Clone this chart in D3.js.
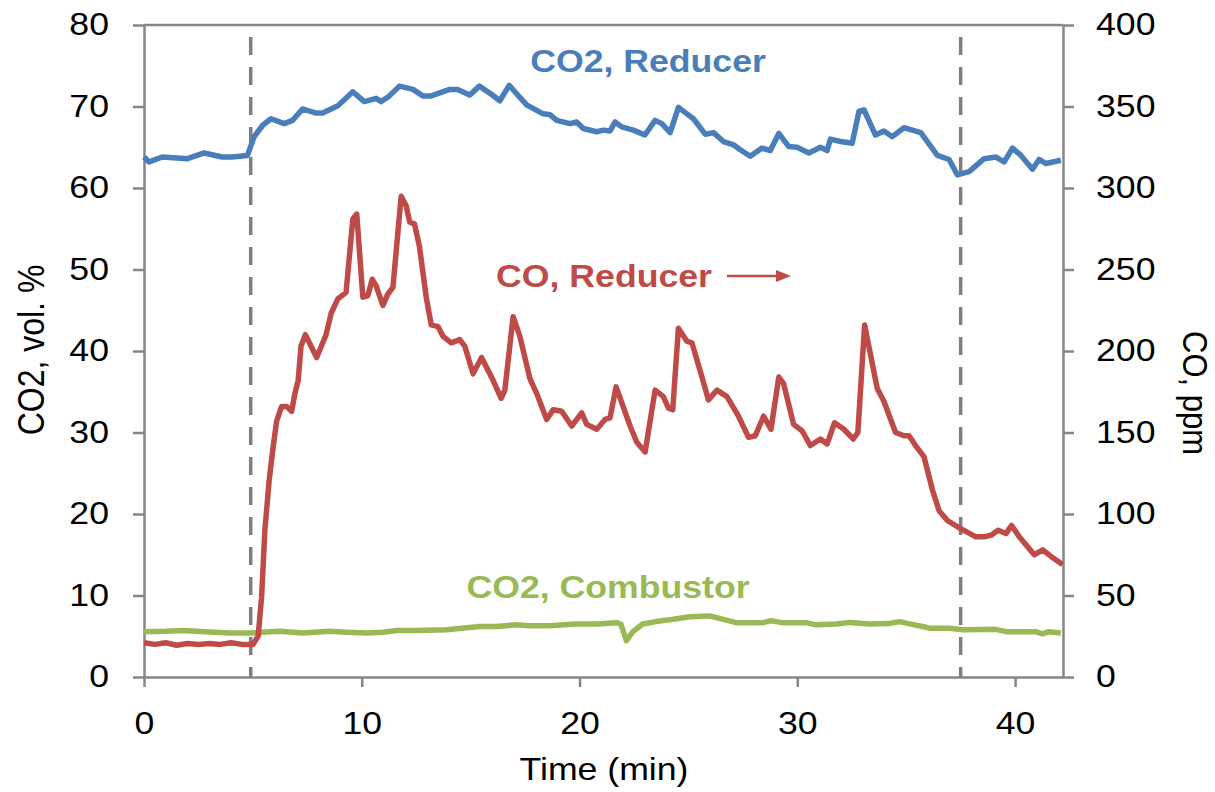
<!DOCTYPE html>
<html>
<head>
<meta charset="utf-8">
<script src="https://cdn.jsdelivr.net/npm/d3@7"></script>
<style>
  body { margin: 0; background: #fff; }
  text { font-family: "Liberation Sans", Arial, sans-serif; }
</style>
</head>
<body>
<div id="chart"></div>
<script>
// data

// CO2 in reducer, vol. %
var co2RedTime = [0, 0.23, 0.84, 2.0, 2.76, 3.6, 4.06, 4.75, 5.06, 5.45, 5.83, 6.44, 6.82, 7.28, 7.9, 8.2, 8.9, 9.59,
  10.12, 10.66, 10.89, 11.27, 11.73, 12.35, 12.8, 13.19, 14.04, 14.4, 14.96, 15.4, 15.95, 16.34, 16.77, 17.1, 17.57,
  18.33, 18.64, 18.95, 19.56, 19.87, 20.17, 20.79, 21.09, 21.4, 21.63, 21.94, 22.47, 23.0, 23.47, 23.78, 24.16,
  24.54, 24.93, 25.23, 25.77, 26.15, 26.61, 27.07, 27.38, 27.84, 28.38, 28.76, 29.15, 29.6, 29.99, 30.53, 31.06,
  31.37, 31.52, 31.98, 32.52, 32.83, 33.06, 33.59, 33.98, 34.36, 34.9, 35.28, 35.67, 36.43, 36.97, 37.35, 37.89,
  38.58, 39.12, 39.5, 39.88, 40.27, 40.8, 41.1, 41.42, 42.1];
var co2RedVal = [63.8, 63.2, 63.8, 63.6, 64.3, 63.8, 63.8, 64.0, 66.3, 67.7, 68.5, 67.9, 68.3, 69.7, 69.2, 69.2, 70.1, 71.8,
  70.6, 71.0, 70.6, 71.3, 72.5, 72.1, 71.3, 71.3, 72.1, 72.1, 71.4, 72.5, 71.5, 70.7, 72.6, 71.6, 70.2,
  69.1, 69.0, 68.3, 67.9, 68.1, 67.3, 66.9, 67.1, 67.0, 68.1, 67.5, 67.1, 66.5, 68.3, 67.9, 66.8,
  69.9, 69.1, 68.5, 66.6, 66.8, 65.7, 65.3, 64.7, 63.9, 64.9, 64.6, 66.7, 65.1, 65.0, 64.3, 65.0,
  64.6, 66.0, 65.7, 65.5, 69.4, 69.6, 66.5, 67.0, 66.3, 67.4, 67.1, 66.8, 64.0, 63.5, 61.6, 62.0,
  63.6, 63.8, 63.2, 64.9, 64.0, 62.3, 63.5, 63.0, 63.4];

// CO in reducer, ppm (right axis)
var coRedTime = [0, 0.5, 1.0, 1.5, 2.0, 2.5, 3.0, 3.5, 4.0, 4.5, 5.0, 5.24, 5.4, 5.55, 5.75, 5.93, 6.09, 6.32, 6.55, 6.78,
  6.93, 7.08, 7.21, 7.41, 7.93, 8.36, 8.59, 8.9, 9.28, 9.59, 9.77, 10.05, 10.28, 10.48, 10.66, 10.97, 11.2, 11.43,
  11.81, 12.04, 12.2, 12.42, 12.65, 12.96, 13.19, 13.5, 13.73, 14.11, 14.5, 14.73, 15.11, 15.5, 16.03, 16.4, 16.57,
  16.95, 17.26, 17.72, 18.03, 18.49, 18.79, 19.18, 19.64, 20.1, 20.33, 20.79, 21.17, 21.4, 21.68, 22.32, 22.63,
  23.01, 23.47, 23.85, 24.08, 24.28, 24.54, 24.93, 25.16, 25.62, 25.92, 26.31, 26.77, 27.3, 27.76, 28.07, 28.45,
  28.79, 29.15, 29.37, 29.83, 30.22, 30.6, 31.06, 31.37, 31.71, 32.14, 32.57, 32.78, 33.09, 33.67, 33.98, 34.51,
  34.9, 35.13, 35.43, 35.82, 36.2, 36.51, 36.89, 37.5, 38.2, 38.58, 38.9, 39.22, 39.58, 39.84, 40.19, 40.57,
  40.88, 41.27, 41.65, 42.18];
var coRedPpm = [21, 20, 21, 19.5, 20.5, 20, 20.5, 20, 21, 20, 20, 25, 49, 90, 121, 141, 157, 166, 166, 163,
  174, 182, 203, 210, 196, 210, 223, 232, 236, 281, 284, 233, 234, 244, 240, 228, 235, 239,
  295, 289, 279, 278, 264, 233, 216, 215, 209, 205, 207, 203, 186, 196, 182, 171, 176,
  221, 209, 183, 174, 158, 164, 163, 154, 162, 155, 152, 158, 159, 178, 154, 144,
  138, 176, 172, 165, 164, 214, 206, 205, 184, 170, 176, 172, 160, 147, 148, 160,
  152, 184, 180, 155, 151, 142, 146, 143, 156, 152, 146, 150, 216, 177, 169, 150,
  148, 148, 142, 135, 115, 102, 96, 91, 86, 86, 87, 90, 88, 93, 86, 80,
  75, 78, 74, 69];

// CO2 in combustor, vol. %
var co2ComTime = [0, 1.0, 1.8, 2.8, 3.95, 4.86, 6.24, 7.3, 8.5, 9.3, 10.2, 10.98, 11.6, 12.5, 13.9, 15.4, 16.2, 17.1, 17.7,
  18.6, 19.85, 20.8, 21.7, 21.9, 22.15, 22.45, 22.9, 23.5, 24.3, 25.05, 25.97, 26.6, 27.2, 28.4, 28.8, 29.3, 30.4,
  30.85, 31.8, 32.4, 33.3, 34.2, 34.7, 35.1, 35.75, 36.1, 37.0, 37.6, 39.1, 39.6, 40.95, 41.25, 41.55, 42.1];
var co2ComVal = [5.56, 5.6, 5.7, 5.55, 5.4, 5.4, 5.6, 5.4, 5.6, 5.5, 5.4, 5.5, 5.7, 5.7, 5.8, 6.2, 6.2, 6.4, 6.3,
  6.3, 6.5, 6.5, 6.67, 6.5, 4.45, 5.56, 6.5, 6.8, 7.08, 7.4, 7.5, 7.08, 6.67, 6.67, 6.9, 6.67, 6.67,
  6.4, 6.5, 6.7, 6.5, 6.55, 6.8, 6.55, 6.2, 5.97, 5.97, 5.8, 5.85, 5.56, 5.56, 5.3, 5.56, 5.4];

// dashed markers (min)
var markerTimes = [4.9, 37.5];

// ticks
var xTicks = [0, 10, 20, 30, 40];
var yLeftTicks = [0, 10, 20, 30, 40, 50, 60, 70, 80];
var yRightTicks = [0, 50, 100, 150, 200, 250, 300, 350, 400];

// set up SVG
var svgWidth = 1215;
var svgHeight = 792;
var margin = { top: 25, right: 152, bottom: 115, left: 144 };
var width = svgWidth - margin.left - margin.right;
var height = svgHeight - margin.top - margin.bottom;
var stretch = 1.15; // text in the source is a bit wide

var axisColor = "#868686";
var blue = "#4A7EBB", red = "#BE4B48", green = "#98B954";

var svg = d3.select("#chart")
  .append("svg")
  .attr("width", svgWidth)
  .attr("height", svgHeight);

var chartGroup = svg.append("g")
  .attr("transform", `translate(${margin.left}, ${margin.top})`);

// scales
var xScale = d3.scaleLinear().domain([0, 42.2]).range([0, width]);
var yLeft = d3.scaleLinear().domain([0, 80]).range([height, 0]);
var yRight = d3.scaleLinear().domain([0, 400]).range([height, 0]);

// axes
function styleAxis(g) {
  g.select(".domain").attr("stroke", axisColor).attr("stroke-width", 2.5);
  g.selectAll(".tick line").attr("stroke", axisColor).attr("stroke-width", 2.5);
  g.selectAll("text").attr("fill", "#000").attr("font-size", 31)
    .attr("font-family", "'Liberation Sans', Arial, sans-serif");
}

var bottomAxis = d3.axisBottom(xScale).tickValues(xTicks).tickSize(10).tickSizeOuter(0);
var gx = chartGroup.append("g")
  .attr("transform", `translate(0, ${height})`)
  .call(bottomAxis)
  .call(styleAxis);
gx.selectAll("text").attr("y", 35).attr("transform", `scale(${stretch},1)`);

var leftAxis = d3.axisLeft(yLeft).tickValues(yLeftTicks).tickSize(11).tickSizeOuter(0);
var gl = chartGroup.append("g")
  .call(leftAxis)
  .call(styleAxis);
gl.selectAll("text").attr("x", -35 / stretch).attr("transform", `scale(${stretch},1)`);

var rightAxis = d3.axisRight(yRight).tickValues(yRightTicks).tickSize(11).tickSizeOuter(0);
var gr = chartGroup.append("g")
  .attr("transform", `translate(${width}, 0)`)
  .call(rightAxis)
  .call(styleAxis);
gr.selectAll("text").attr("x", 33 / stretch).attr("transform", `scale(${stretch},1)`);

// top border of plot area
chartGroup.append("line")
  .attr("x1", 0).attr("x2", width)
  .attr("y1", 0).attr("y2", 0)
  .attr("stroke", axisColor).attr("stroke-width", 2.5);

// dashed vertical markers
chartGroup.selectAll(".marker")
  .data(markerTimes)
  .enter()
  .append("line")
  .attr("class", "marker")
  .attr("x1", d => xScale(d)).attr("x2", d => xScale(d))
  .attr("y1", yLeft(80) + 12).attr("y2", yLeft(0))
  .attr("stroke", "#7F7F7F")
  .attr("stroke-width", 3.5)
  .attr("stroke-dasharray", "18,12");

// series
function zip(ts, vs) { return ts.map((t, i) => ({ t: t, v: vs[i] })); }

var lineLeft = d3.line().x(d => xScale(d.t)).y(d => yLeft(d.v));
var lineRight = d3.line().x(d => xScale(d.t)).y(d => yRight(d.v));

chartGroup.append("path")
  .datum(zip(co2ComTime, co2ComVal))
  .attr("d", lineLeft)
  .attr("fill", "none").attr("stroke", green).attr("stroke-width", 5.5)
  .attr("stroke-linejoin", "round");

chartGroup.append("path")
  .datum(zip(coRedTime, coRedPpm))
  .attr("d", lineRight)
  .attr("fill", "none").attr("stroke", red).attr("stroke-width", 5.5)
  .attr("stroke-linejoin", "round");

chartGroup.append("path")
  .datum(zip(co2RedTime, co2RedVal))
  .attr("d", lineLeft)
  .attr("fill", "none").attr("stroke", blue).attr("stroke-width", 5.5)
  .attr("stroke-linejoin", "round");

// labels
function label(x, y, txt, color, bold) {
  return svg.append("text")
    .attr("transform", `translate(${x}, ${y}) scale(${stretch},1)`)
    .attr("text-anchor", "middle")
    .attr("font-size", 31)
    .attr("font-weight", bold ? "bold" : "normal")
    .attr("fill", color)
    .text(txt);
}

label(648, 72, "CO2, Reducer", blue, true);
label(604, 287, "CO, Reducer", red, true);
label(608, 598, "CO2, Combustor", green, true);
label(604, 780, "Time (min)", "#000", false);

// arrow next to CO label
svg.append("line")
  .attr("x1", 727).attr("x2", 778)
  .attr("y1", 276).attr("y2", 276)
  .attr("stroke", red).attr("stroke-width", 2.5);
svg.append("path")
  .attr("d", "M776,270 L791,276 L776,282 Z")
  .attr("fill", red);

// axis titles
svg.append("text")
  .attr("transform", `translate(44, 350) scale(${stretch},1) rotate(-90)`)
  .attr("text-anchor", "middle")
  .attr("font-size", 32)
  .text("CO2, vol. %");

svg.append("text")
  .attr("transform", `translate(1183, 393) scale(${stretch},1) rotate(90)`)
  .attr("text-anchor", "middle")
  .attr("font-size", 31)
  .text("CO, ppm");
</script>
</body>
</html>
